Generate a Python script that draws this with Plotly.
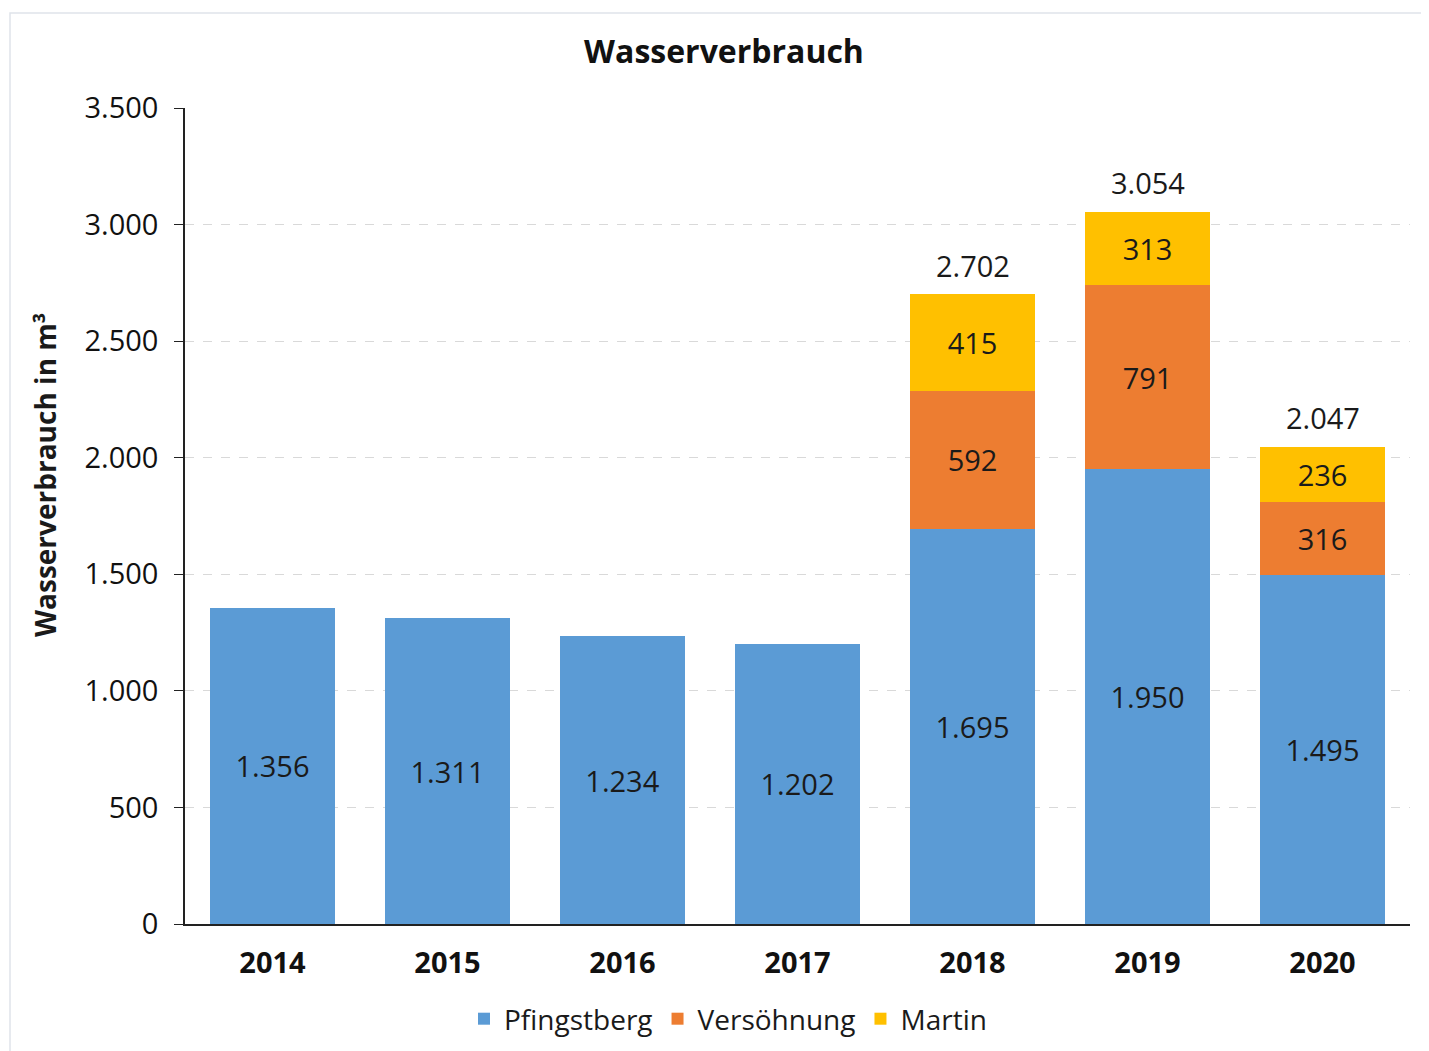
import plotly.graph_objects as go

years = ["2014", "2015", "2016", "2017", "2018", "2019", "2020"]
pfingstberg = [1356, 1311, 1234, 1202, 1695, 1950, 1495]
versoehnung = [None, None, None, None, 592, 791, 316]
martin = [None, None, None, None, 415, 313, 236]
totals = [None, None, None, None, 2702, 3054, 2047]
y_ticks = [0, 500, 1000, 1500, 2000, 2500, 3000, 3500]

FONT = "Open Sans"
TXT = "#1a1a1a"

# page is offset by 8px body margin; plot area on page: x 185..1410, y 108..924
PX0, PX1, PY0, PY1 = 185, 1410, 108, 924
def to_px(x):
    return (x - PX0) / (PX1 - PX0)
def to_py(y):
    return (PY1 - y) / (PY1 - PY0)

fig = go.Figure()
series = [("Pfingstberg", pfingstberg, "#5b9bd5"),
          ("Versöhnung", versoehnung, "#ed7d31"),
          ("Martin", martin, "#ffc000")]
for name, vals, col in series:
    fig.add_trace(go.Bar(
        name=name, x=years, y=vals, marker=dict(color=col, line=dict(width=0)),
        texttemplate="%{y:,d}", textposition="inside", insidetextanchor="middle",
        textfont=dict(family=FONT, size=29, color=TXT),
    ))

annotations = []
for i, t in enumerate(totals):
    if t is None:
        continue
    annotations.append(dict(x=i, y=t, xref="x", yref="y",
                            text=f"{t:,}".replace(",", "."), showarrow=False,
                            yanchor="middle", yshift=29,
                            font=dict(family=FONT, size=29, color=TXT)))
annotations.append(dict(x=to_px(45), y=to_py(475), xref="paper", yref="paper",
                        text="<b>Wasserverbrauch in m³</b>", textangle=-90, showarrow=False,
                        xanchor="center", yanchor="middle",
                        font=dict(family=FONT, size=28, color=TXT)))

fig.update_layout(
    width=1429, height=1051, barmode="stack", bargap=0.29,
    separators=",.",
    margin=dict(l=177, r=27, t=100, b=135),
    paper_bgcolor="white", plot_bgcolor="white",
    font=dict(family=FONT, size=28, color=TXT),
    title=dict(text="<b>Wasserverbrauch</b>", x=716 / 1429, xref="container", xanchor="center",
               y=1 - 44 / 1051, yref="container", yanchor="middle",
               font=dict(family=FONT, size=32, color="#111")),
    legend=dict(orientation="h", x=to_px(728), xanchor="center", y=to_py(1019), yanchor="middle",
                font=dict(family=FONT, size=28, color=TXT), itemwidth=30, traceorder="normal"),
    showlegend=True,
    annotations=annotations,
    shapes=[dict(type="rect", xref="paper", yref="paper", x0=to_px(10), x1=1.2, y0=-0.3, y1=to_py(13),
                 line=dict(color="#dfe4ea", width=1.5), layer="below")],
)
fig.update_xaxes(type="category", showline=True, linecolor="#222", linewidth=1.5, ticks="",
                 tickfont=dict(family=FONT, size=29, color="#111", weight="bold"),
                 ticklabelstandoff=12)
fig.update_yaxes(range=[0, 3500], tickvals=y_ticks, tickformat=",d",
                 showline=True, linecolor="#222", linewidth=1.5,
                 ticks="outside", ticklen=9, tickcolor="#222",
                 showgrid=True, gridcolor="#d9d9d9", griddash="dash", gridwidth=1,
                 zeroline=False, ticklabelstandoff=10,
                 tickfont=dict(family=FONT, size=29, color="#111"))
fig.write_html("out.html")
